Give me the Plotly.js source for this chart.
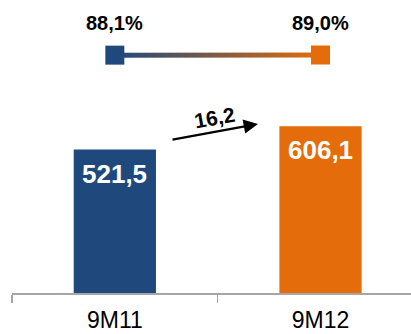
<!DOCTYPE html>
<html><head><meta charset="utf-8">
<script src="https://cdn.plot.ly/plotly-3.0.1.min.js"></script>
<style>html,body{margin:0;padding:0;background:#fff}#c{width:411px;height:334px}</style>
</head><body><div id="c"></div>
<script>
const categories = ['9M11', '9M12'];
const revenue = [521.5, 606.1];
const revenueLabels = ['521,5', '606,1'];
const margin = [88.1, 89.0];
const marginLabels = ['88,1%', '89,0%'];
const growthLabel = '16,2';

const BLUE = '#1F497D', ORANGE = '#E46C0A';
const FONT = 'Liberation Sans, Arial, sans-serif';
const y2Range = [-1535.5, 464.5];
const half = 17;

const traces = [
  {type:'bar', x:categories, y:revenue, width:0.4,
   marker:{color:[BLUE, ORANGE]}, hoverinfo:'none'},
  {type:'scatter', x:categories, y:margin.map(v=>v-half), yaxis:'y2', mode:'lines',
   line:{width:0}, showlegend:false, hoverinfo:'none'},
  {type:'scatter', x:categories, y:margin.map(v=>v+half), yaxis:'y2', mode:'lines',
   line:{width:0}, fill:'tonexty',
   fillgradient:{type:'horizontal', colorscale:[[0,BLUE],[1,ORANGE]]},
   showlegend:false, hoverinfo:'none'},
  {type:'scatter', x:categories, y:margin, yaxis:'y2', mode:'markers',
   marker:{symbol:'square', size:19, color:[BLUE, ORANGE]}, showlegend:false, hoverinfo:'none', cliponaxis:false}
];

const annotations = categories.map((c,i)=>({
  x:c, y:margin[i], xref:'x', yref:'y2', text:marginLabels[i], showarrow:false,
  yshift:32, font:{size:20, family:FONT, color:'#000', weight:'bold'}
}));
categories.forEach((c,i)=>annotations.push({
  x:c, y:revenue[i], xref:'x', yref:'y', text:revenueLabels[i], showarrow:false,
  yanchor:'top', yshift:-7, font:{size:26, family:FONT, color:'#fff', weight:'bold'}
}));
annotations.push({xref:'paper', yref:'paper', x:0.6165, y:0.577, ax:-87, ay:16,
  text:'', showarrow:true, arrowhead:2, arrowsize:1.3, arrowwidth:2.2, arrowcolor:'#000'});
annotations.push({xref:'paper', yref:'paper', x:0.508, y:0.60, text:growthLabel, showarrow:false,
  textangle:-10, font:{size:21, family:FONT, color:'#000', weight:'bold'}});

const layout = {
  width:411, height:334, margin:{l:12, r:0, t:0, b:41},
  paper_bgcolor:'#fff', plot_bgcolor:'#fff', showlegend:false,
  font:{family:FONT},
  xaxis:{type:'category', range:[-0.5, 1.44], showline:true, linecolor:'#A6A6A6', linewidth:1.5,
    ticks:'outside', tickson:'boundaries', ticklen:8, tickcolor:'#A6A6A6', tickwidth:1.5,
    tickfont:{size:23, color:'#000', family:FONT}, ticklabelstandoff:6, showgrid:false, zeroline:false, fixedrange:true},
  yaxis:{range:[0, 1065], visible:false, fixedrange:true},
  yaxis2:{range:y2Range, overlaying:'y', visible:false, fixedrange:true},
  annotations:annotations
};
Plotly.newPlot('c', traces, layout, {staticPlot:true, displayModeBar:false});
</script></body></html>
